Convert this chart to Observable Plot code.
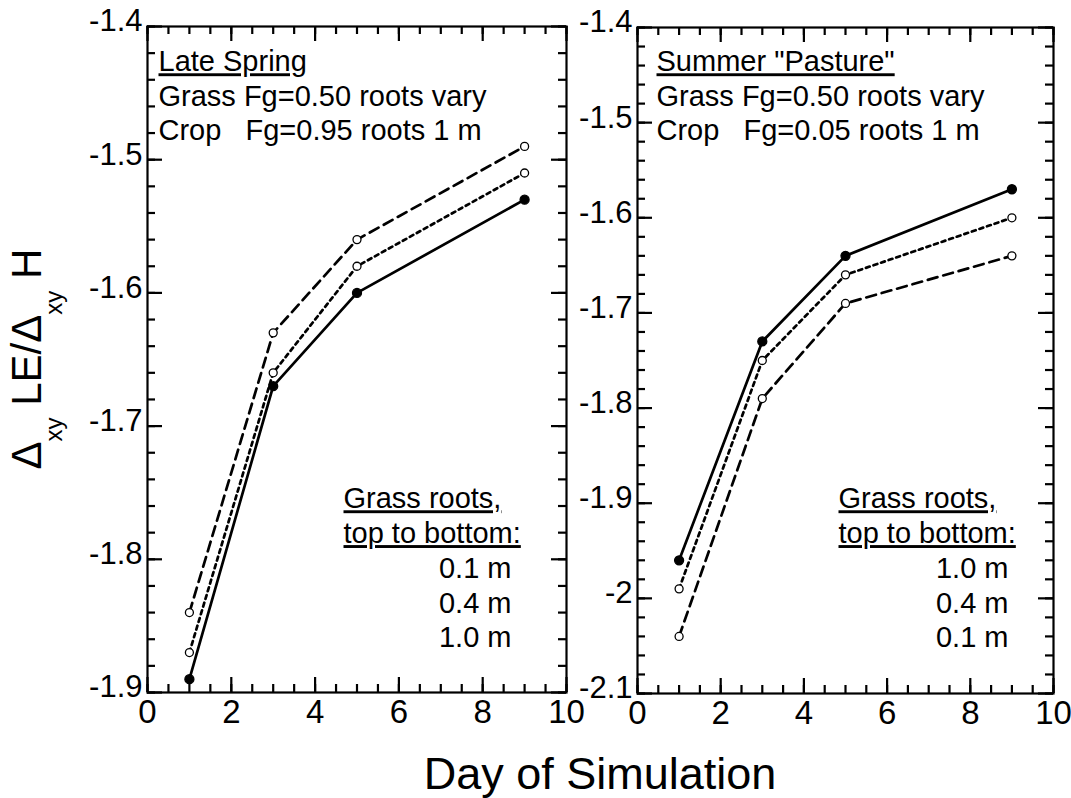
<!DOCTYPE html>
<html>
<head>
<meta charset="utf-8">
<script src="https://cdn.jsdelivr.net/npm/d3@7"></script>
<script src="https://cdn.jsdelivr.net/npm/@observablehq/plot@0.6"></script>
<style>
  html, body { margin: 0; padding: 0; background: #fff; }
  #wrap { position: relative; width: 1071px; height: 798px; overflow: hidden;
          font-family: "Liberation Sans", Arial, Helvetica, sans-serif; color: #000; }
  #ytitle { position: absolute; left: 0; top: 0; transform-origin: 0 0; font-size: 42px;
            line-height: 42px; white-space: nowrap; }
  #ytitle .sub { font-size: 24px; vertical-align: -21px; line-height: 0; }
  #xtitle { position: absolute; left: 600px; top: 751px; transform: translateX(-50%);
            font-size: 45px; line-height: 45px; white-space: nowrap; }
</style>
</head>
<body>
<div id="wrap">
  <div id="ytitle">Δ<span class="sub">xy</span> LE/Δ<span class="sub">xy</span> H</div>
  <div id="xtitle"></div>
</div>
<script>
// ---- data ----
const days = [1, 3, 5, 9];
// Late Spring panel (grass root depth 0.1 m, 0.4 m, 1.0 m)
const spring01 = [-1.84, -1.63, -1.56, -1.49];
const spring04 = [-1.87, -1.66, -1.58, -1.51];
const spring10 = [-1.89, -1.67, -1.60, -1.53];
// Summer "Pasture" panel
const summer10 = [-1.96, -1.73, -1.64, -1.57];
const summer04 = [-1.99, -1.75, -1.66, -1.60];
const summer01 = [-2.04, -1.79, -1.69, -1.64];

const xTicks = [0, 2, 4, 6, 8, 10];
const springYTicks = [-1.9, -1.8, -1.7, -1.6, -1.5, -1.4];
const summerYTicks = [-2.1, -2.0, -1.9, -1.8, -1.7, -1.6, -1.5, -1.4];

const springNotes = ["Late Spring", "Grass Fg=0.50 roots vary", "Crop\u00a0\u00a0\u00a0Fg=0.95 roots 1 m"];
const summerNotes = ["Summer \"Pasture\"", "Grass Fg=0.50 roots vary", "Crop\u00a0\u00a0\u00a0Fg=0.05 roots 1 m"];
const legendHead = ["Grass roots,", "top to bottom:"];
const springLegend = ["0.1 m", "0.4 m", "1.0 m"];
const summerLegend = ["1.0 m", "0.4 m", "0.1 m"];
const underlined = ["Late Spring", "Summer \"Pasture\"", "Grass roots,", "top to bottom:"];
const xTitle = "Day of Simulation";

// ---- helpers ----
const rows = vals => days.map((d, i) => ({day: d, v: vals[i]}));
const styleFor = {
  "0.1 m": {dash: "10,6", filled: false},
  "0.4 m": {dash: "4,4", filled: false},
  "1.0 m": {dash: null, filled: true}
};
const FONT = "'Liberation Sans', Arial, Helvetica, sans-serif";

function panel(o) {
  const pw = o.width - o.ml - o.mr, ph = o.height - o.mt - o.mb;
  const xMinor = d3.range(0, 10.0001, 0.5);
  const yMinor = d3.range(o.yDomain[0], o.yDomain[1] + 1e-6, 0.02);
  const fmt = d => String(+d.toFixed(1));
  const T = {stroke: "black", strokeWidth: 2.2};
  const marks = [
    Plot.frame({strokeWidth: 2.2, fill: "none"}),
    Plot.tickX(xMinor, {x: d => d, insetTop: ph - 8, ...T}),
    Plot.tickX(xTicks, {x: d => d, insetTop: ph - 15, ...T}),
    Plot.tickX(xMinor, {x: d => d, insetBottom: ph - 8, ...T}),
    Plot.tickX(xTicks, {x: d => d, insetBottom: ph - 15, ...T}),
    Plot.tickY(yMinor, {y: d => d, insetRight: pw - 8, ...T}),
    Plot.tickY(o.yTicks, {y: d => d, insetRight: pw - 15, ...T}),
    Plot.tickY(yMinor, {y: d => d, insetLeft: pw - 8, ...T}),
    Plot.tickY(o.yTicks, {y: d => d, insetLeft: pw - 15, ...T}),
    Plot.axisX(xTicks, {tickSize: 0, tickPadding: 7, fontSize: 33, tickFormat: d => String(d), label: null}),
    Plot.axisY(o.yTicks, {tickSize: 0, tickPadding: 5, fontSize: 31, tickFormat: fmt, label: null, dy: -5})
  ];
  for (const s of o.series) {
    const st = styleFor[s.roots];
    marks.push(Plot.line(rows(s.values), {x: "day", y: "v", stroke: "black", strokeWidth: 2.7,
      strokeDasharray: st.dash || undefined}));
  }
  for (const s of o.series) {
    const st = styleFor[s.roots];
    marks.push(Plot.dot(rows(s.values), {x: "day", y: "v", r: st.filled ? 4.5 : 4,
      fill: st.filled ? "black" : "white", stroke: "black", strokeWidth: 1.3}));
  }
  o.notes.forEach((t, i) => marks.push(Plot.text([t], {text: d => d, frameAnchor: "top-left", lineAnchor: "middle",
    dx: o.noteDx, dy: o.noteTop + i * 34.5, textAnchor: "start", fontSize: 29})));
  legendHead.forEach((t, i) => marks.push(Plot.text([t], {text: d => d, frameAnchor: "top-right", lineAnchor: "middle",
    dx: -o.legStart, dy: o.legTop + i * 34.8, textAnchor: "start", fontSize: 29})));
  o.legend.forEach((t, i) => marks.push(Plot.text([t], {text: d => d, frameAnchor: "top-right", lineAnchor: "middle",
    dx: -o.legEnd, dy: o.legTop + (i + 2) * 34.8, textAnchor: "end", fontSize: 29})));

  const svg = Plot.plot({
    width: o.width, height: o.height,
    marginLeft: o.ml, marginRight: o.mr, marginTop: o.mt, marginBottom: o.mb,
    x: {domain: [0, 10]},
    y: {domain: o.yDomain},
    style: {background: "transparent", fontFamily: FONT, fontSize: "29px", color: "black"},
    marks
  });
  svg.querySelectorAll("text").forEach(t => {
    if (underlined.includes(t.textContent)) t.style.textDecoration = "underline";
  });
  svg.style.position = "absolute";
  svg.style.left = o.left + "px";
  svg.style.top = "0px";
  return svg;
}

const wrap = document.getElementById("wrap");
wrap.appendChild(panel({
  left: 0, width: 600, height: 740, ml: 147, mr: 34, mt: 26, mb: 48,
  yDomain: [-1.9, -1.4], yTicks: springYTicks,
  series: [{roots: "0.1 m", values: spring01}, {roots: "0.4 m", values: spring04}, {roots: "1.0 m", values: spring10}],
  notes: springNotes, legend: springLegend, noteDx: 11, noteTop: 35.5, legTop: 472.5, legStart: 223, legEnd: 55
}));
wrap.appendChild(panel({
  left: 560, width: 511, height: 740, ml: 77, mr: 18, mt: 27, mb: 47,
  yDomain: [-2.1, -1.4], yTicks: summerYTicks,
  series: [{roots: "0.1 m", values: summer01}, {roots: "0.4 m", values: summer04}, {roots: "1.0 m", values: summer10}],
  notes: summerNotes, legend: summerLegend, noteDx: 19, noteTop: 34.5, legTop: 471.5, legStart: 215, legEnd: 45
}));

document.getElementById("xtitle").textContent = xTitle;
const yt = document.getElementById("ytitle");
const w = yt.offsetWidth;
yt.style.transform = `translate(6px, ${359 + w / 2}px) rotate(-90deg)`;
</script>
</body>
</html>
